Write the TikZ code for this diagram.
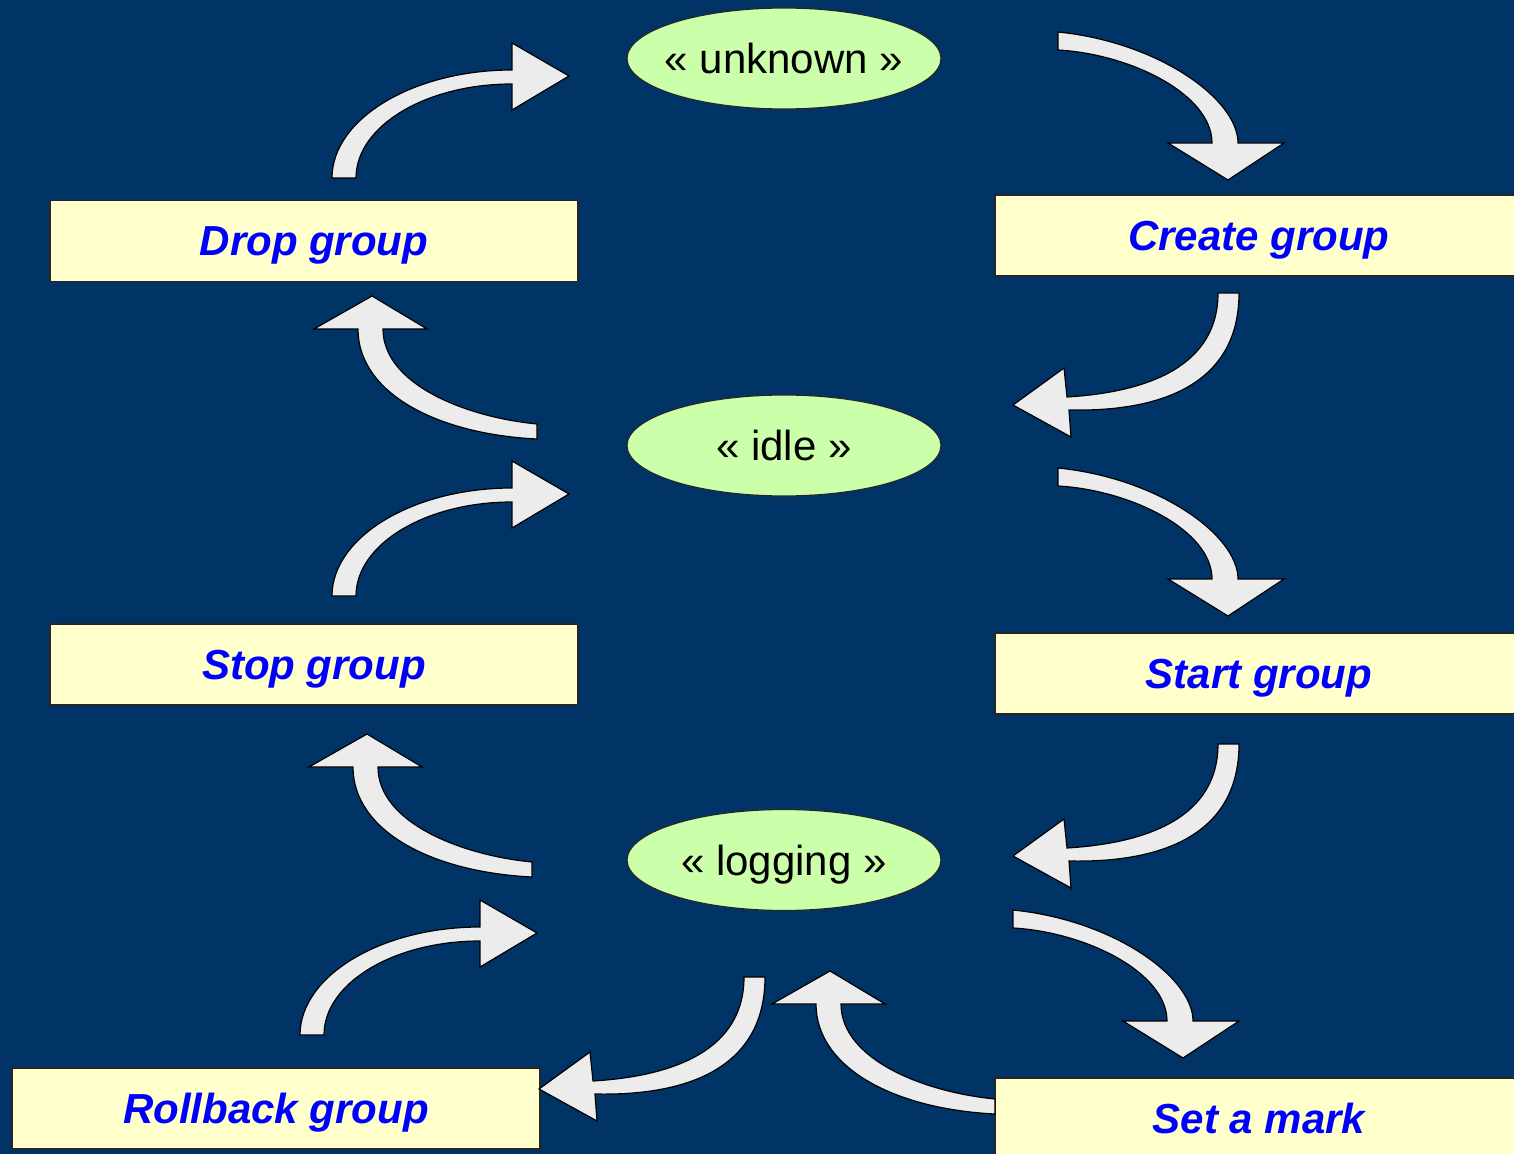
\documentclass[tikz,border=0pt]{standalone}
\usepackage{fontspec}
\setmainfont{Liberation Sans}
\usetikzlibrary{shapes.geometric}
\definecolor{bgnavy}{RGB}{0,51,102}
\definecolor{boxyellow}{RGB}{255,255,204}
\definecolor{ellgreen}{RGB}{204,255,170}
\definecolor{arrowgrey}{RGB}{236,236,236}
\definecolor{txtblue}{RGB}{0,0,255}
\begin{document}
\begin{tikzpicture}[x=0.5pt,y=-0.5pt,
  actionbox/.style={draw=black!85, line width=0.6pt, fill=boxyellow, rectangle,
    minimum width=264pt, minimum height=40.5pt, inner sep=0pt, text depth=0pt,
    text=txtblue, font=\fontsize{21}{25}\selectfont\bfseries\itshape},
  stateell/.style={draw=black!85, line width=0.6pt, fill=ellgreen, ellipse,
    minimum width=157pt, minimum height=50.5pt, inner sep=0pt, text depth=0pt,
    font=\fontsize{21}{25}\selectfont},
  blockarrow/.style={fill=arrowgrey, draw=black, line width=0.6pt, line join=miter},
  pics/arrA/.style={code={
    \draw[blockarrow] (332,178) .. controls (332,119) and (413,70) .. (512,70)
      -- (512,43) -- (569,76) -- (512,110) -- (512,84)
      .. controls (426,84) and (356,126) .. (356,178) -- cycle;}},
  pics/arrB/.style={code={
    \draw[blockarrow] (1058,468) .. controls (1158,478) and (1238,535) .. (1238,579)
      -- (1284,579) -- (1228,616) -- (1168,579) -- (1212,579)
      .. controls (1212,530) and (1130,490) .. (1058,486) -- cycle;}},
  pics/arrC/.style={code={
    \draw[blockarrow] (1218,293) -- (1239,293) .. controls (1239,385) and (1160,412) .. (1069,410)
      -- (1071,437) -- (1013,405) -- (1064,368) -- (1067,397)
      .. controls (1150,392) and (1218,365) .. (1218,293) -- cycle;}},
  pics/arrD/.style={code={
    \draw[blockarrow] (532,862) .. controls (460,855) and (378,822) .. (378,767)
      -- (422,767) -- (367,734) -- (309,767) -- (353,767)
      .. controls (353,830) and (430,872) .. (532,877) -- cycle;}}
]
\useasboundingbox (0,0) rectangle (1514,1154);
\clip (0,0) rectangle (1514,1154);
\fill[bgnavy] (0,0) rectangle (1514,1154);

% states
\node[stateell] (unknown) at (784,58.5) {\makebox[0pt]{« unknown »}};
\node[stateell] (idle) at (784,445.5) {\makebox[0pt]{« idle »}};
\node[stateell] (logging) at (784,860) {\makebox[0pt]{« logging »}};

% actions
\node[actionbox] (drop) at (314,241) {Drop group};
\node[actionbox] (create) at (1259,235.5) {Create group};
\node[actionbox] (stop) at (314,664.5) {Stop group};
\node[actionbox] (start) at (1259,673.5) {Start group};
\node[actionbox] (rollback) at (276,1108.5) {Rollback group};
\node[actionbox] (setmark) at (1259,1118.5) {Set a mark};

% block arrows
\pic at (0,0) {arrA};
\pic at (0,418) {arrA};
\pic at (-32,857) {arrA};
\pic at (0,-436) {arrB};
\pic at (0,0) {arrB};
\pic at (-45,442) {arrB};
\pic at (0,0) {arrC};
\pic at (0,451) {arrC};
\pic at (-474,684) {arrC};
\pic at (5,-438) {arrD};
\pic at (0,0) {arrD};
\pic at (463,237) {arrD};
\end{tikzpicture}
\end{document}
